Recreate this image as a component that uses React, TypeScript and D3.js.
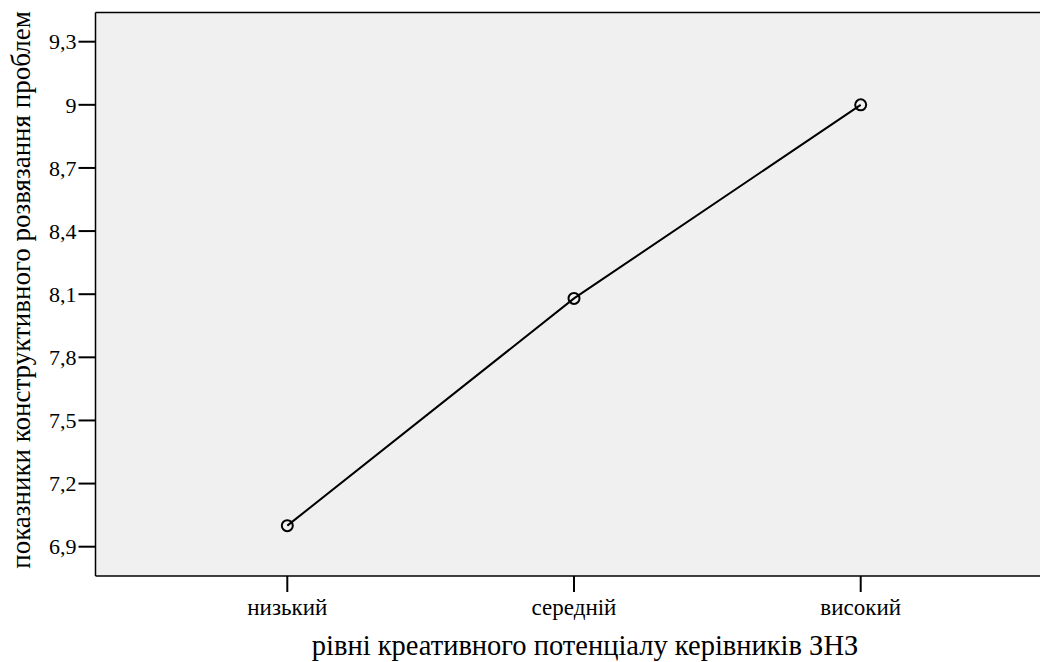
import React from "react";
import * as d3 from "d3";

const categories: string[] = ["низький", "середній", "високий"];
const values: number[] = [7.0, 8.08, 9.0];
const yTicks: number[] = [6.9, 7.2, 7.5, 7.8, 8.1, 8.4, 8.7, 9.0, 9.3];
const xTitle = "рівні креативного потенціалу керівників ЗНЗ";
const yTitle = "показники конструктивного розвязання проблем";

const W = 1040;
const H = 662;
const plot = { left: 95.5, right: 1052.5, top: 12.5, bottom: 576 };
const font = "serif";

const fmt = (v: number) => {
  const s = Number.isInteger(v) ? String(v) : v.toFixed(1);
  return s.replace(".", ",");
};

export default function App() {
  const y = d3.scaleLinear().domain([6.9, 9.3]).range([546.7, 41.7]);
  const x = d3
    .scalePoint<string>()
    .domain(categories)
    .range([plot.left, plot.right])
    .padding(0.669);

  const line = d3
    .line<number>()
    .x((_, i) => x(categories[i]) as number)
    .y((d) => y(d));

  const ts = { fontFamily: font };

  return (
    <svg
      width={W}
      height={H}
      style={{ position: "absolute", left: 0, top: 0, display: "block", fontFamily: font }}
    >
      <rect x={0} y={0} width={W} height={H} fill="#ffffff" />
      <rect
        x={plot.left}
        y={plot.top}
        width={W - plot.left}
        height={plot.bottom - plot.top}
        fill="#f0f0f0"
      />
      <line x1={plot.left} x2={W} y1={plot.top} y2={plot.top} stroke="#000" strokeWidth={1.5} />
      <line x1={plot.left} x2={W} y1={plot.bottom} y2={plot.bottom} stroke="#000" strokeWidth={1.5} />
      <line x1={plot.left} x2={plot.left} y1={plot.top} y2={plot.bottom} stroke="#000" strokeWidth={1.5} />
      {yTicks.map((t) => (
        <g key={t}>
          <line x1={plot.left - 17} x2={plot.left} y1={y(t)} y2={y(t)} stroke="#000" strokeWidth={2} />
          <text
            x={plot.left - 19}
            y={y(t)}
            dy="0.35em"
            textAnchor="end"
            fontSize={22}
            fill="#000"
            style={ts}
          >
            {fmt(t)}
          </text>
        </g>
      ))}
      {categories.map((c) => (
        <g key={c}>
          <line
            x1={x(c)}
            x2={x(c)}
            y1={plot.bottom}
            y2={plot.bottom + 16}
            stroke="#000"
            strokeWidth={2}
          />
          <text x={x(c)} y={615} textAnchor="middle" fontSize={23} fill="#000" style={ts}>
            {c}
          </text>
        </g>
      ))}
      <path d={line(values) || ""} fill="none" stroke="#000" strokeWidth={2} />
      {values.map((v, i) => (
        <circle
          key={i}
          cx={x(categories[i])}
          cy={y(v)}
          r={5.5}
          fill="none"
          stroke="#000"
          strokeWidth={2}
        />
      ))}
      <text x={585} y={655} textAnchor="middle" fontSize={28.5} fill="#000" style={ts}>
        {xTitle}
      </text>
      <text
        transform={`translate(30, 290) rotate(-90)`}
        textAnchor="middle"
        fontSize={27}
        fill="#000"
        style={ts}
      >
        {yTitle}
      </text>
    </svg>
  );
}
